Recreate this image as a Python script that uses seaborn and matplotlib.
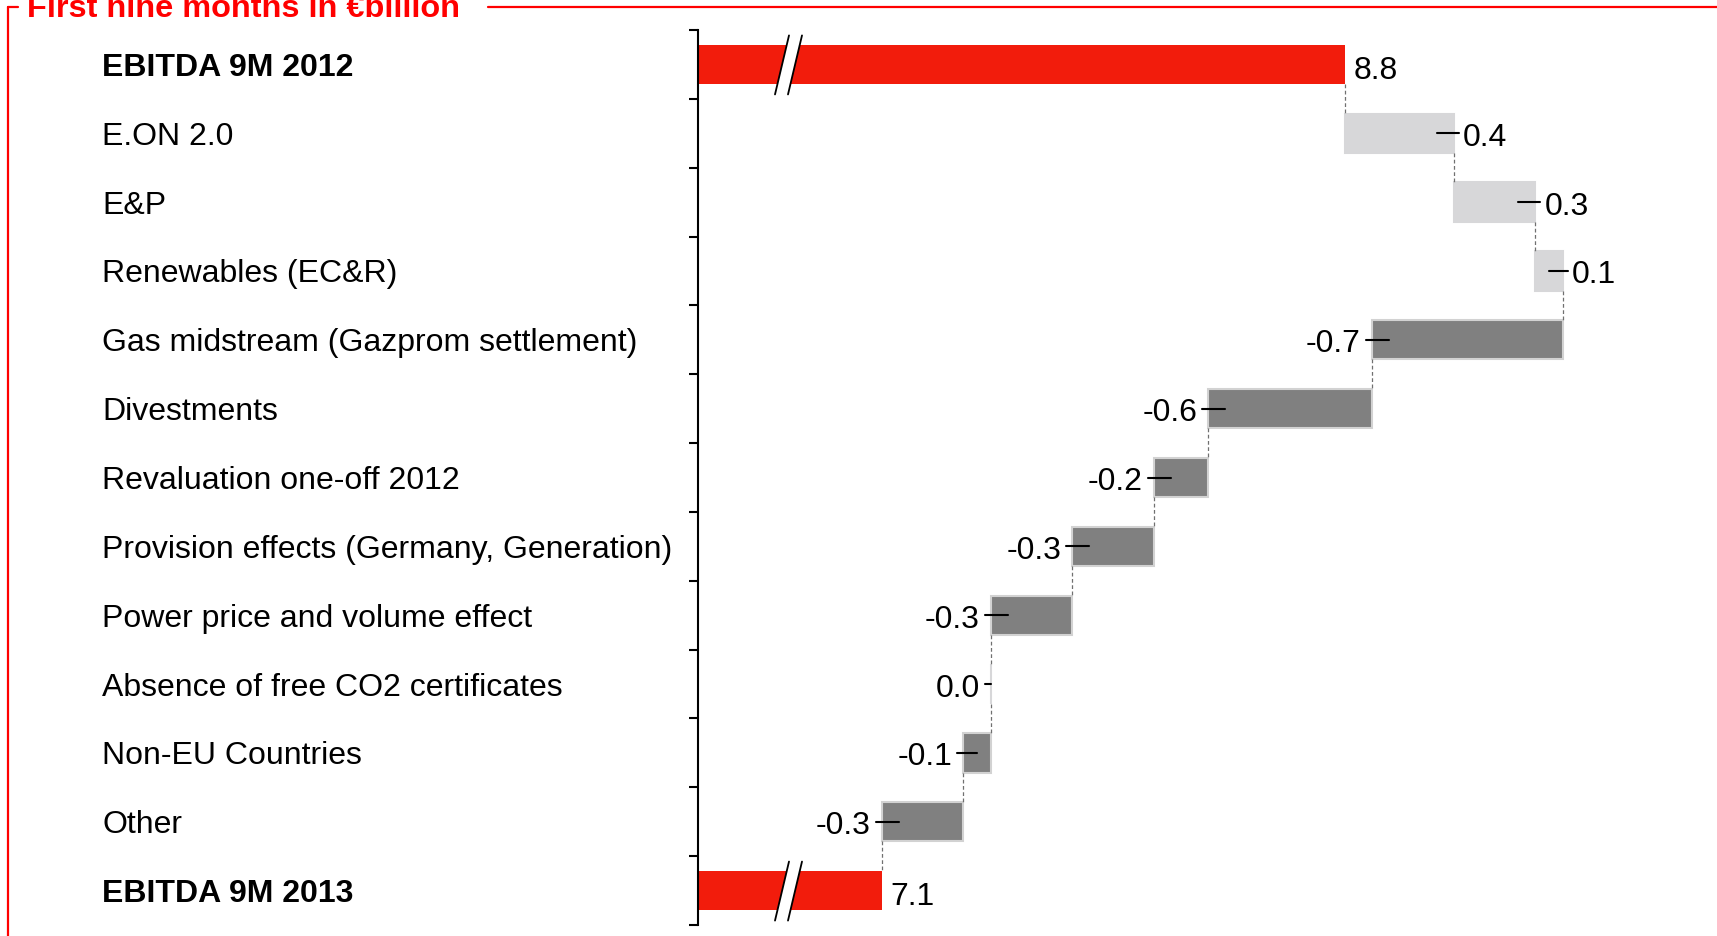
import numpy as np
import matplotlib
matplotlib.use("Agg")
import matplotlib.pyplot as plt
from matplotlib.lines import Line2D
from matplotlib.patches import Polygon
import seaborn as sns

sns.set_style("white")
plt.rcParams['font.family'] = ['Liberation Sans', 'DejaVu Sans']

# data (EUR billion)
categories = ["EBITDA 9M 2012", "E.ON 2.0", "E&P", "Renewables (EC&R)",
              "Gas midstream (Gazprom settlement)", "Divestments",
              "Revaluation one-off 2012", "Provision effects (Germany, Generation)",
              "Power price and volume effect", "Absence of free CO2 certificates",
              "Non-EU Countries", "Other", "EBITDA 9M 2013"]
values = [8.8, 0.4, 0.3, 0.1, -0.7, -0.6, -0.2, -0.3, -0.3, 0.0, -0.1, -0.3, 7.1]
is_total = [True, False, False, False, False, False, False, False, False, False, False, False, True]

red = '#F21C0C'
light = '#D7D7D9'
dark = '#808080'
edge_dark = '#D2D2D2'

# waterfall positions
lefts, ends = [], []
run = 0.0
for v, tot in zip(values, is_total):
    if tot:
        lefts.append(0.0)
        ends.append(v)
        run = v
    else:
        lefts.append(run)
        run += v
        ends.append(run)
widths = [e - l for l, e in zip(lefts, ends)]

W, H = 1717, 936
ax_left_px, ax_bottom_px, ax_w_px, ax_h_px = 698, 11, 1019, 895
px_per_unit = 272.4
xmin = 6.426
xmax = xmin + ax_w_px / px_per_unit

fig = plt.figure(figsize=(W / 100, H / 100), dpi=100)
ax = fig.add_axes([ax_left_px / W, ax_bottom_px / H, ax_w_px / W, ax_h_px / H])

sns.barplot(x=widths, y=categories, left=lefts, orient='h', width=0.57,
            errorbar=None, ax=ax, color=dark)

for patch, v, tot in zip(ax.patches, values, is_total):
    if tot:
        patch.set_facecolor(red)
        patch.set_edgecolor(red)
        patch.set_linewidth(0)
    elif v >= 0:
        patch.set_facecolor(light)
        patch.set_edgecolor(light)
        patch.set_linewidth(1.5)
    else:
        patch.set_facecolor(dark)
        patch.set_edgecolor(edge_dark)
        patch.set_linewidth(1.5)

ax.set_xlim(xmin, xmax)
ax.set_ylim(12.5, -0.5)
px = 1.0 / px_per_unit
py = 13.0 / ax_h_px

# dashed connectors
for i in range(len(values) - 1):
    ax.plot([ends[i], ends[i]], [i + 0.285, i + 1 - 0.285], color='#707070',
            lw=0.9, ls=(0, (3, 2)), zorder=1)

# value labels with leader dashes
fs = 23
for i, (l, e, v, tot) in enumerate(zip(lefts, ends, values, is_total)):
    lab = f"{v:.1f}"
    if tot:
        ax.text(e + 9 * px, i + 3 * py, lab, ha='left', va='center_baseline',
                fontsize=fs, color='black')
        continue
    ty = i + 1 * py
    dash_in = min(17, abs(e - l) / px / 2)
    if v > 0:
        ax.plot([e - dash_in * px, e + 5 * px], [i, i], color='black', lw=1.5, zorder=4)
        ax.text(e + 9 * px, ty, lab, ha='left', va='center_baseline', fontsize=fs, color='black')
    else:
        ax.plot([e - 6 * px, e + dash_in * px], [i, i], color='black', lw=1.5, zorder=4)
        ax.text(e - 11 * px, ty, lab, ha='right', va='center_baseline', fontsize=fs, color='black')

# axis break marks on the total bars
cx = xmin + 90.5 * px
for row in [0, 12]:
    top, bot = row - 29 * py, row + 30 * py
    a_top, a_bot = cx - 6.5 * px + 7 * px, cx - 6.5 * px - 7 * px
    b_top, b_bot = cx + 6.5 * px + 7 * px, cx + 6.5 * px - 7 * px
    ax.add_patch(Polygon([[a_top, top], [b_top, top], [b_bot, bot], [a_bot, bot]],
                         closed=True, facecolor='white', edgecolor='none', zorder=5))
    ax.plot([a_top, a_bot], [top, bot], color='black', lw=1.3, zorder=6)
    ax.plot([b_top, b_bot], [top, bot], color='black', lw=1.3, zorder=6)

# axes styling
sns.despine(ax=ax, top=True, right=True, bottom=True, left=False)
ax.spines['left'].set_color('black')
ax.spines['left'].set_linewidth(1.5)
ax.set_xticks([])
ax.set_xlabel('')
ax.set_ylabel('')
ax.set_yticks(np.arange(-0.5, 13, 1), minor=True)
ax.tick_params(axis='y', which='minor', left=True, length=6.5, width=1.5,
               color='black', direction='out')
ax.tick_params(axis='y', which='major', left=True, length=0,
               pad=(ax_left_px - 102) * 0.72, labelsize=fs, labelcolor='black')
for k, lbl in enumerate(ax.get_yticklabels()):
    lbl.set_ha('left')
    if is_total[k]:
        lbl.set_fontweight('bold')

# red frame and header
frame_red = '#FF0000'
ytop = 1 - 7 / H
fig.add_artist(Line2D([8 / W, 8 / W], [ytop, 0], color=frame_red, lw=1.6))
fig.add_artist(Line2D([8 / W, 18 / W], [ytop, ytop], color=frame_red, lw=1.6))
fig.add_artist(Line2D([488 / W, 1], [ytop, ytop], color=frame_red, lw=1.6))
fig.text(27 / W, 1 - 17 / H, "First nine months in €billion", color=frame_red,
         fontsize=23.4, fontweight='bold', va='baseline', ha='left')

fig.savefig('out.png', dpi=100)
